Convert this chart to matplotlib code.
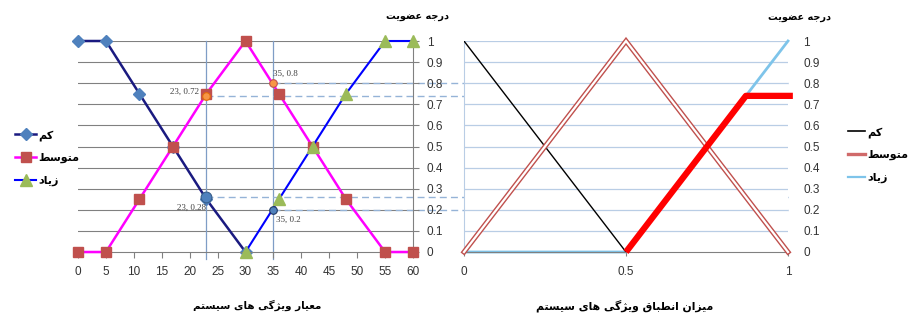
import matplotlib
matplotlib.use("Agg")
import matplotlib.pyplot as plt
from matplotlib.lines import Line2D
import numpy as np

# left chart: criterion value 0..60
x_left = [0, 5, 11, 17, 23, 30, 36, 42, 48, 55, 60]
low_x = [0, 5, 11, 17, 23, 30]
low_y = [1, 1, 0.75, 0.5, 0.25, 0]
mid_y = [0, 0, 0.25, 0.5, 0.75, 1, 0.75, 0.5, 0.25, 0, 0]
high_x = [30, 36, 42, 48, 55, 60]
high_y = [0, 0.25, 0.5, 0.75, 1, 1]

cut_x = [23, 35, 23, 35]
cut_y = [0.74, 0.8, 0.26, 0.2]
cut_txt = ["23, 0.72", "35, 0.8", "23, 0.28", "35, 0.2"]

# right chart: degree of match 0..1
r_low_x = [0, 0.5]
r_low_y = [1, 0]
r_mid_x = [0, 0.5, 1]
r_mid_y = [0, 1, 0]
r_high_x = [0, 0.5, 1]
r_high_y = [0, 0, 1]
r_out_x = [0.5, 0.87, 1.015]
r_out_y = [0, 0.74, 0.74]

xt_left = list(range(0, 61, 5))
yt = [round(v * 0.1, 1) for v in range(11)]
yt_lbl = ["0"] + ["%.1f" % v for v in yt[1:-1]] + ["1"]

names = ["کم", "متوسط", "زیاد"]
ylab = "درجه عضویت"
xlab_left = "معیار ویژگی های سیستم"
xlab_right = "میزان انطباق ویژگی های سیستم"

# matplotlib has no arabic shaping -> do it by hand (presentation forms, RTL)
FORMS = {
    'ا': ('\uFE8D', '\uFE8E', None, None),
    'ب': ('\uFE8F', '\uFE90', '\uFE91', '\uFE92'),
    'ت': ('\uFE95', '\uFE96', '\uFE97', '\uFE98'),
    'ج': ('\uFE9D', '\uFE9E', '\uFE9F', '\uFEA0'),
    'د': ('\uFEA9', '\uFEAA', None, None),
    'ر': ('\uFEAD', '\uFEAE', None, None),
    'ز': ('\uFEAF', '\uFEB0', None, None),
    'ژ': ('\uFB8A', '\uFB8B', None, None),
    'س': ('\uFEB1', '\uFEB2', '\uFEB3', '\uFEB4'),
    'ض': ('\uFEBD', '\uFEBE', '\uFEBF', '\uFEC0'),
    'ط': ('\uFEC1', '\uFEC2', '\uFEC3', '\uFEC4'),
    'ع': ('\uFEC9', '\uFECA', '\uFECB', '\uFECC'),
    'ق': ('\uFED5', '\uFED6', '\uFED7', '\uFED8'),
    'م': ('\uFEE1', '\uFEE2', '\uFEE3', '\uFEE4'),
    'ن': ('\uFEE5', '\uFEE6', '\uFEE7', '\uFEE8'),
    'ه': ('\uFEE9', '\uFEEA', '\uFEEB', '\uFEEC'),
    'و': ('\uFEED', '\uFEEE', None, None),
    'ک': ('\uFB8E', '\uFB8F', '\uFB90', '\uFB91'),
    'گ': ('\uFB92', '\uFB93', '\uFB94', '\uFB95'),
    'ی': ('\uFBFC', '\uFBFD', '\uFBFE', '\uFBFF'),
}


def fa(s):
    out = []
    for i, ch in enumerate(s):
        if ch not in FORMS:
            out.append(ch)
            continue
        iso, fin, ini, med = FORMS[ch]
        prev = s[i - 1] if i > 0 else None
        nxt = s[i + 1] if i + 1 < len(s) else None
        jp = prev in FORMS and FORMS[prev][2] is not None
        jn = ini is not None and nxt in FORMS
        if jp and jn:
            out.append(med)
        elif jp:
            out.append(fin)
        elif jn:
            out.append(ini)
        else:
            out.append(iso)
    return "".join(reversed(out))


plt.rcParams['font.family'] = ['Liberation Sans', 'DejaVu Sans']
FA = dict(family='DejaVu Sans', weight='bold')

fig = plt.figure(figsize=(9.11, 3.13), dpi=100)
ax1 = fig.add_axes([78 / 911, 61 / 313, 335 / 911, 211 / 313])
ax2 = fig.add_axes([464 / 911, 61 / 313, 324 / 911, 211 / 313])

# ---------- left chart ----------
ax1.set_xlim(0, 60)
ax1.set_ylim(0, 1)
for v in yt[1:]:
    ax1.axhline(v, color='#808080', lw=0.8, zorder=1)
for xv in [23, 35]:
    ax1.plot([xv, xv], [-0.035, 1], color='#7F9DC6', lw=0.9, clip_on=False, zorder=1)

ax1.plot(x_left, mid_y, color='#FF00FF', lw=1.8, marker='s', ms=7,
         mfc='#C0504D', mec='#C0504D', clip_on=False, zorder=3, label=fa(names[1]))
ax1.plot(high_x, high_y, color='#0000FF', lw=1.5, marker='^', ms=8,
         mfc='#9BBB59', mec='#9BBB59', clip_on=False, zorder=4, label=fa(names[2]))
ax1.plot(low_x, low_y, color='#1A1A80', lw=1.8, marker='D', ms=6,
         mfc='#4F81BD', mec='#4F81BD', clip_on=False, zorder=2, label=fa(names[0]))

# dashed projections towards the right chart
x_end = ax1.transData.inverted().transform(ax2.transData.transform((1.0, 0)))[0]
for xv, yv in zip(cut_x, cut_y):
    ax1.plot([xv, x_end], [yv, yv], color='#95B3D7', lw=1.0, ls=(0, (5, 3)),
             clip_on=False, zorder=1)

ax1.scatter(cut_x[0], cut_y[0], s=30, color='#F79646', edgecolor='#E46C0A', lw=0.8, zorder=6)
ax1.scatter(cut_x[1], cut_y[1], s=30, color='#F79646', edgecolor='#C0504D', lw=0.8, zorder=6)
ax1.scatter(cut_x[2], cut_y[2], s=60, color='#4F81BD', edgecolor='#385D8A', lw=0.8, zorder=6)
ax1.scatter(cut_x[3], cut_y[3], s=30, color='#4F81BD', edgecolor='#1F3864', lw=0.8, zorder=6)

tfont = dict(family='Liberation Serif', size=6.5, color='#404040')
ax1.annotate(cut_txt[0], (cut_x[0], cut_y[0]), xytext=(-5, 0), textcoords='offset points',
             ha='right', va='bottom', **tfont)
ax1.annotate(cut_txt[1], (cut_x[1], cut_y[1]), xytext=(0, 4), textcoords='offset points',
             ha='left', va='bottom', **tfont)
ax1.annotate(cut_txt[2], (cut_x[2], cut_y[2]), xytext=(0, -5), textcoords='offset points',
             ha='right', va='top', **tfont)
ax1.annotate(cut_txt[3], (cut_x[3], cut_y[3]), xytext=(2, -4), textcoords='offset points',
             ha='left', va='top', **tfont)

ax1.set_xticks(xt_left)
ax1.set_yticks(yt)
ax1.set_yticklabels(yt_lbl)
ax1.yaxis.tick_right()
ax1.tick_params(axis='y', length=4, pad=6, colors='#808080', labelcolor='#333333', labelsize=8.5)
ax1.tick_params(axis='x', length=4, pad=6, colors='#808080', labelcolor='#333333', labelsize=8.5)
for s in ['left', 'top']:
    ax1.spines[s].set_visible(False)
ax1.spines['right'].set_color('#808080')
ax1.spines['bottom'].set_color('#808080')

h, l = ax1.get_legend_handles_labels()
order = [2, 0, 1]
fig.legend([h[i] for i in order], [l[i] for i in order], loc='upper left',
           bbox_to_anchor=(5 / 911, 1 - 120 / 313), frameon=False, prop=dict(size=8, **FA),
           handlelength=1.9, handletextpad=0.2, labelspacing=1.1)

# ---------- right chart ----------
ax2.set_xlim(0, 1)
ax2.set_ylim(0, 1)
for v in yt[1:]:
    ax2.axhline(v, color='#B9CDE5', lw=0.9, zorder=1)
ax2.plot(r_high_x, r_high_y, color='#7EC4EA', lw=2, zorder=2, clip_on=False)
ax2.plot(r_low_x, r_low_y, color='#000000', lw=1, zorder=3)
ax2.plot(r_mid_x, r_mid_y, color='#C0504D', lw=3.6, zorder=4, clip_on=False,
         solid_joinstyle='miter')
ax2.plot(r_mid_x, r_mid_y, color='white', lw=1.6, zorder=4, clip_on=False,
         solid_joinstyle='miter')
ax2.plot(r_out_x, r_out_y, color='#FF0000', lw=4.5, zorder=5, clip_on=False,
         solid_capstyle='butt')

ax2.set_xticks([0, 0.5, 1])
ax2.set_xticklabels(["0", "0.5", "1"])
ax2.set_yticks(yt)
ax2.set_yticklabels(yt_lbl)
ax2.yaxis.tick_right()
ax2.tick_params(axis='y', length=0, pad=11, labelcolor='#333333', labelsize=8.5)
ax2.tick_params(axis='x', length=3, pad=7, colors='#808080', labelcolor='#333333', labelsize=8.5)
for s in ['right', 'top']:
    ax2.spines[s].set_visible(False)
ax2.spines['left'].set_color('#B9CDE5')
ax2.spines['bottom'].set_color('#808080')

r_handles = [Line2D([], [], color='#000000', lw=1.2),
             Line2D([], [], color='#D06A6A', lw=2.4),
             Line2D([], [], color='#7EC4EA', lw=1.6)]
fig.legend(r_handles, [fa(n) for n in names], loc='upper left',
           bbox_to_anchor=(838 / 911, 1 - 117 / 313), frameon=False, prop=dict(size=8, **FA),
           handlelength=1.5, handletextpad=0.2, labelspacing=1.1)

# axis titles
fig.text(418 / 911, 1 - 16 / 313, fa(ylab), ha='center', va='center', size=7, **FA)
fig.text(799 / 911, 1 - 17 / 313, fa(ylab), ha='center', va='center', size=7, **FA)
fig.text(257 / 911, 1 - 305 / 313, fa(xlab_left), ha='center', va='center', size=7.5, **FA)
fig.text(625 / 911, 1 - 306 / 313, fa(xlab_right), ha='center', va='center', size=7.8, **FA)

fig.savefig("out.png", dpi=100)
